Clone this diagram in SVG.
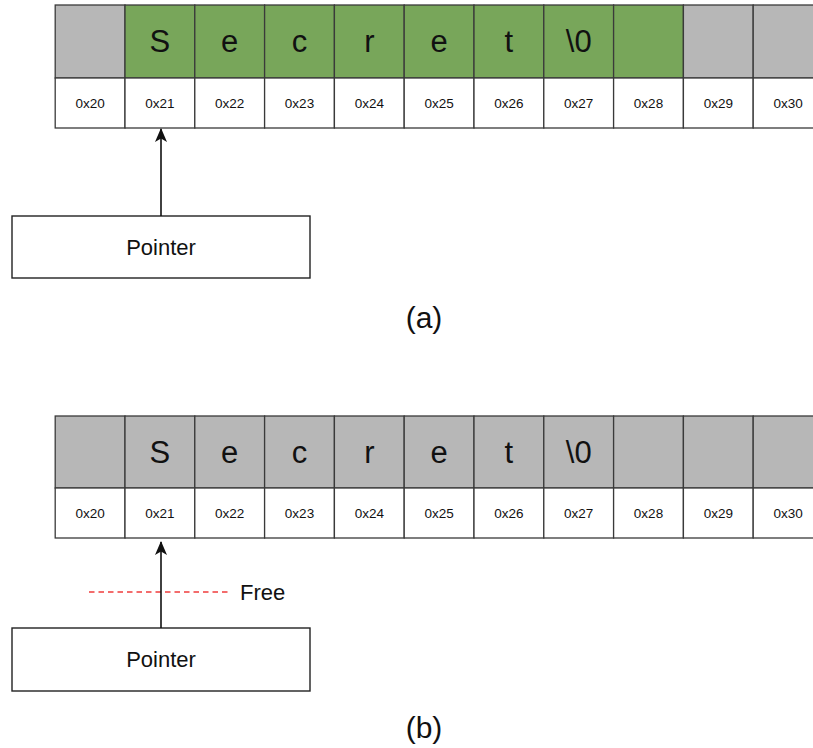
<svg xmlns="http://www.w3.org/2000/svg" width="813" height="748" viewBox="0 0 813 748">
  <style>
    .cell { stroke: #3a3a3a; stroke-width: 1.3; }
    .used { fill: #78a65a; }
    .free { fill: #b7b7b7; }
    .addr { fill: #ffffff; }
    .ch { font-family: "Liberation Sans", Arial, sans-serif; font-size: 31px; fill: #111; text-anchor: middle; }
    .ad { font-family: "Liberation Sans", Arial, sans-serif; font-size: 13.5px; fill: #111; text-anchor: middle; }
    .lbl { font-family: "Liberation Sans", Arial, sans-serif; font-size: 22px; fill: #111; text-anchor: middle; }
    .cap { font-family: "Liberation Sans", Arial, sans-serif; font-size: 30px; fill: #111; text-anchor: middle; }
    .box { fill: #ffffff; stroke: #222; stroke-width: 1.4; }
    .link { stroke: #111; stroke-width: 1.6; fill: none; }
  </style>
  <defs>
    <marker id="arrow" viewBox="0 0 14 12" refX="13" refY="6" markerWidth="14" markerHeight="12" markerUnits="userSpaceOnUse" orient="auto">
      <path d="M0,0 L14,6 L0,12 L3.5,6 z" fill="#111"/>
    </marker>
  </defs>
  <rect width="813" height="748" fill="#ffffff"/>

  <!-- (a) memory, string allocated -->
  <g id="memory-a">
    <rect class="cell free" x="55.2" y="5" width="69.8" height="73"/>
    <rect class="cell used" x="125" y="5" width="69.8" height="73"/>
    <rect class="cell used" x="194.8" y="5" width="69.8" height="73"/>
    <rect class="cell used" x="264.6" y="5" width="69.8" height="73"/>
    <rect class="cell used" x="334.4" y="5" width="69.8" height="73"/>
    <rect class="cell used" x="404.2" y="5" width="69.8" height="73"/>
    <rect class="cell used" x="474" y="5" width="69.8" height="73"/>
    <rect class="cell used" x="543.8" y="5" width="69.8" height="73"/>
    <rect class="cell used" x="613.6" y="5" width="69.8" height="73"/>
    <rect class="cell free" x="683.4" y="5" width="69.8" height="73"/>
    <rect class="cell free" x="753.2" y="5" width="69.8" height="73"/>
    <text class="ch" x="159.9" y="52">S</text>
    <text class="ch" x="229.7" y="52">e</text>
    <text class="ch" x="299.5" y="52">c</text>
    <text class="ch" x="369.3" y="52">r</text>
    <text class="ch" x="439.1" y="52">e</text>
    <text class="ch" x="508.9" y="52">t</text>
    <text class="ch" x="578.7" y="52">\0</text>
    <rect class="cell addr" x="55.2" y="78" width="69.8" height="50"/>
    <rect class="cell addr" x="125" y="78" width="69.8" height="50"/>
    <rect class="cell addr" x="194.8" y="78" width="69.8" height="50"/>
    <rect class="cell addr" x="264.6" y="78" width="69.8" height="50"/>
    <rect class="cell addr" x="334.4" y="78" width="69.8" height="50"/>
    <rect class="cell addr" x="404.2" y="78" width="69.8" height="50"/>
    <rect class="cell addr" x="474" y="78" width="69.8" height="50"/>
    <rect class="cell addr" x="543.8" y="78" width="69.8" height="50"/>
    <rect class="cell addr" x="613.6" y="78" width="69.8" height="50"/>
    <rect class="cell addr" x="683.4" y="78" width="69.8" height="50"/>
    <rect class="cell addr" x="753.2" y="78" width="69.8" height="50"/>
    <text class="ad" x="90.1" y="108">0x20</text>
    <text class="ad" x="159.9" y="108">0x21</text>
    <text class="ad" x="229.7" y="108">0x22</text>
    <text class="ad" x="299.5" y="108">0x23</text>
    <text class="ad" x="369.3" y="108">0x24</text>
    <text class="ad" x="439.1" y="108">0x25</text>
    <text class="ad" x="508.9" y="108">0x26</text>
    <text class="ad" x="578.7" y="108">0x27</text>
    <text class="ad" x="648.5" y="108">0x28</text>
    <text class="ad" x="718.3" y="108">0x29</text>
    <text class="ad" x="788.1" y="108">0x30</text>
  </g>

  <g id="pointer-a">
    <rect class="box" x="12" y="216" width="298" height="62"/>
    <text class="lbl" x="161" y="255">Pointer</text>
  </g>

  <g id="caption-a">
    <text class="cap" x="424" y="328">(a)</text>
  </g>

  <!-- (b) memory, string freed -->
  <g id="memory-b">
    <rect class="cell free" x="55.2" y="416" width="69.8" height="72"/>
    <rect class="cell free" x="125" y="416" width="69.8" height="72"/>
    <rect class="cell free" x="194.8" y="416" width="69.8" height="72"/>
    <rect class="cell free" x="264.6" y="416" width="69.8" height="72"/>
    <rect class="cell free" x="334.4" y="416" width="69.8" height="72"/>
    <rect class="cell free" x="404.2" y="416" width="69.8" height="72"/>
    <rect class="cell free" x="474" y="416" width="69.8" height="72"/>
    <rect class="cell free" x="543.8" y="416" width="69.8" height="72"/>
    <rect class="cell free" x="613.6" y="416" width="69.8" height="72"/>
    <rect class="cell free" x="683.4" y="416" width="69.8" height="72"/>
    <rect class="cell free" x="753.2" y="416" width="69.8" height="72"/>
    <text class="ch" x="159.9" y="463">S</text>
    <text class="ch" x="229.7" y="463">e</text>
    <text class="ch" x="299.5" y="463">c</text>
    <text class="ch" x="369.3" y="463">r</text>
    <text class="ch" x="439.1" y="463">e</text>
    <text class="ch" x="508.9" y="463">t</text>
    <text class="ch" x="578.7" y="463">\0</text>
    <rect class="cell addr" x="55.2" y="488" width="69.8" height="50"/>
    <rect class="cell addr" x="125" y="488" width="69.8" height="50"/>
    <rect class="cell addr" x="194.8" y="488" width="69.8" height="50"/>
    <rect class="cell addr" x="264.6" y="488" width="69.8" height="50"/>
    <rect class="cell addr" x="334.4" y="488" width="69.8" height="50"/>
    <rect class="cell addr" x="404.2" y="488" width="69.8" height="50"/>
    <rect class="cell addr" x="474" y="488" width="69.8" height="50"/>
    <rect class="cell addr" x="543.8" y="488" width="69.8" height="50"/>
    <rect class="cell addr" x="613.6" y="488" width="69.8" height="50"/>
    <rect class="cell addr" x="683.4" y="488" width="69.8" height="50"/>
    <rect class="cell addr" x="753.2" y="488" width="69.8" height="50"/>
    <text class="ad" x="90.1" y="518">0x20</text>
    <text class="ad" x="159.9" y="518">0x21</text>
    <text class="ad" x="229.7" y="518">0x22</text>
    <text class="ad" x="299.5" y="518">0x23</text>
    <text class="ad" x="369.3" y="518">0x24</text>
    <text class="ad" x="439.1" y="518">0x25</text>
    <text class="ad" x="508.9" y="518">0x26</text>
    <text class="ad" x="578.7" y="518">0x27</text>
    <text class="ad" x="648.5" y="518">0x28</text>
    <text class="ad" x="718.3" y="518">0x29</text>
    <text class="ad" x="788.1" y="518">0x30</text>
  </g>

  <g id="pointer-b">
    <rect class="box" x="12" y="628" width="298" height="63"/>
    <text class="lbl" x="161" y="667">Pointer</text>
  </g>

  <g id="free-mark">
    <line x1="89" y1="592" x2="231" y2="592" stroke="#f03c3c" stroke-width="1.4" stroke-dasharray="5.5,4"/>
    <text class="lbl" x="240" y="600" style="text-anchor:start">Free</text>
  </g>

  <g id="caption-b">
    <text class="cap" x="424" y="738">(b)</text>
  </g>

  <!-- pointer references -->
  <g id="connectors">
    <line class="link" x1="161" y1="216" x2="161" y2="129" marker-end="url(#arrow)"/>
    <line class="link" x1="161" y1="628" x2="161" y2="542" marker-end="url(#arrow)"/>
  </g>
</svg>
